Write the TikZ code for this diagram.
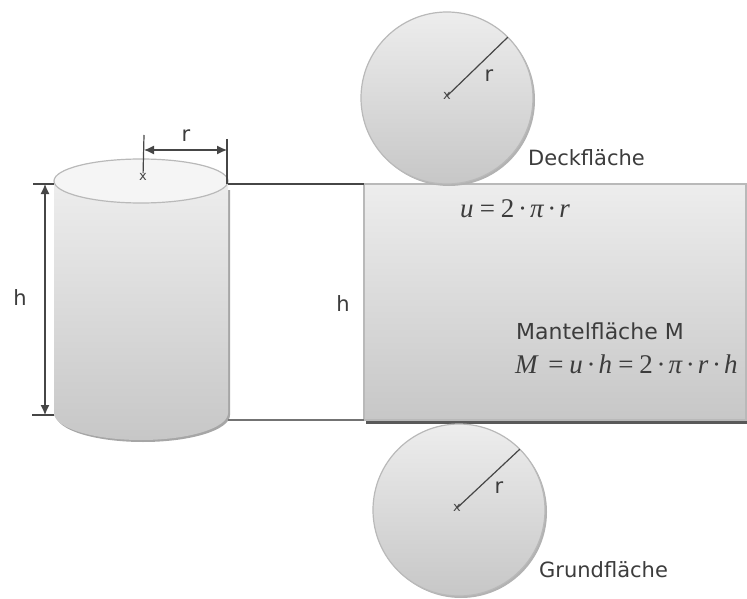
\documentclass[tikz,border=0pt]{standalone}
\usepackage{fontspec}
\setmainfont{DejaVu Sans}
\newfontfamily\formelfont{Liberation Serif}[Ligatures=TeX]
\usetikzlibrary{arrows.meta, positioning, calc}
\definecolor{linegray}{RGB}{70, 70, 70}
\definecolor{edgegray}{RGB}{185, 185, 185}
\definecolor{textgray}{RGB}{60, 60, 60}
\tikzset{
  face/.style={top color=black!7, bottom color=black!22, draw=edgegray, line width=1.2pt},
  disc/.style={face, circle, minimum size=172pt, inner sep=0pt, outer sep=0pt},
  mantel/.style={face, rectangle, minimum width=382pt, minimum height=236pt, inner sep=0pt, outer sep=0pt},
  label/.style={font=\fontsize{21}{24}\selectfont, text=textgray, inner sep=0pt},
  formel/.style={font=\fontsize{27}{30}\selectfont\formelfont\itshape, text=textgray, inner sep=0pt},
  centermark/.style={font=\fontsize{13}{13}\selectfont, text=linegray, inner sep=0pt},
  dim/.style={draw=linegray, line width=1.2pt},
  dimarrow/.style={dim, {Latex[length=10pt,width=9pt]}-{Latex[length=10pt,width=9pt]}}
}
\begin{document}
\begin{tikzpicture}[x=1pt, y=-1pt]
  \useasboundingbox (0,0) rectangle (747,599);
  % abgewickelter Mantel und Kreise
  \fill[black!65] (366,190) rectangle (747,424);
  \node[mantel, anchor=north west] (mantelrect) at (364,184) {};
  \fill[black!30] (449,100) circle[radius=86];
  \node[disc] (deckel) at (447,98) {};
  \fill[black!30] (461,512) circle[radius=86];
  \node[disc] (boden) at (459,510) {};

  % Zylinder
  \fill[black!35] (56,190) -- (230,190) -- (230,415) arc[start angle=0, end angle=180, x radius=87, y radius=27] -- cycle;
  \path[face, draw=none] (54,181) -- (228,181) -- (228,413) arc[start angle=0, end angle=180, x radius=87, y radius=27] -- cycle;
  \draw[draw=edgegray, line width=1.2pt, fill=black!4] (141,181) ellipse[x radius=87, y radius=22];

  \coordinate (dachlinks) at (54,184);
  \coordinate (dachrechts) at (228,184);
  \coordinate (fusslinks) at (54,415);
  \coordinate (fussrechts) at (228,420);
  \coordinate (hoben) at (33,184);
  \coordinate (hunten) at (32,415);
  \coordinate (hpfeiloben) at (45,184);
  \coordinate (hpfeilunten) at (45,415);
  \coordinate (rlinks) at (144,135);
  \coordinate (rrechts) at (227,139);
  \coordinate (rfuss) at (227,184);
  \coordinate (rpfeillinks) at (144,150);
  \coordinate (rpfeilrechts) at (227,150);
  \node[centermark] (zentrum) at (143,177) {x};
  \node[centermark] (deckzentrum) at (447,96) {x};
  \node[centermark] (bodenzentrum) at (457,508) {x};

  % Verbindungen und Masse
  \draw[dim] (dachrechts) -- (mantelrect.north west);
  \draw[dim, draw=black!55] (fussrechts) -- (mantelrect.south west);
  \draw[dim] (hoben) -- (dachlinks);
  \draw[dim] (hunten) -- (fusslinks);
  \draw[dimarrow] (hpfeiloben) -- (hpfeilunten);
  \draw[dim] (rlinks) -- (zentrum);
  \draw[dim] (rrechts) -- (rfuss);
  \draw[dimarrow] (rpfeillinks) -- (rpfeilrechts);
  \draw[dim] (deckzentrum.center) -- (deckel.45);
  \draw[dim] (bodenzentrum.center) -- (boden.45);

  % Beschriftung
  \node[label] (hlinks) at (20,298) {h};
  \node[label] (hmitte) at (343,304) {h};
  \node[label] (rzyl) at (186,136) {r};
  \node[label] (rdeck) at (489,76) {r};
  \node[label] (rboden) at (499,488) {r};
  \node[label, anchor=west] (deckname) at (528,158) {Deckfläche};
  \node[label, anchor=west] (grundname) at (539,570) {Grundfläche};
  \node[label, anchor=west, font=\fontsize{22}{26}\selectfont] (mantelname) at (516,331) {Mantelfläche M};
  \node[formel, anchor=west] (uformel) at (460,209) {u\,=\,{\upshape 2}\,·\,π\,·\,r};
  \node[formel, anchor=west] (mformel) at (515,364) {M\,\,=\,u\,·\,h\,=\,{\upshape 2}\,·\,π\,·\,r\,·\,h};
\end{tikzpicture}
\end{document}
